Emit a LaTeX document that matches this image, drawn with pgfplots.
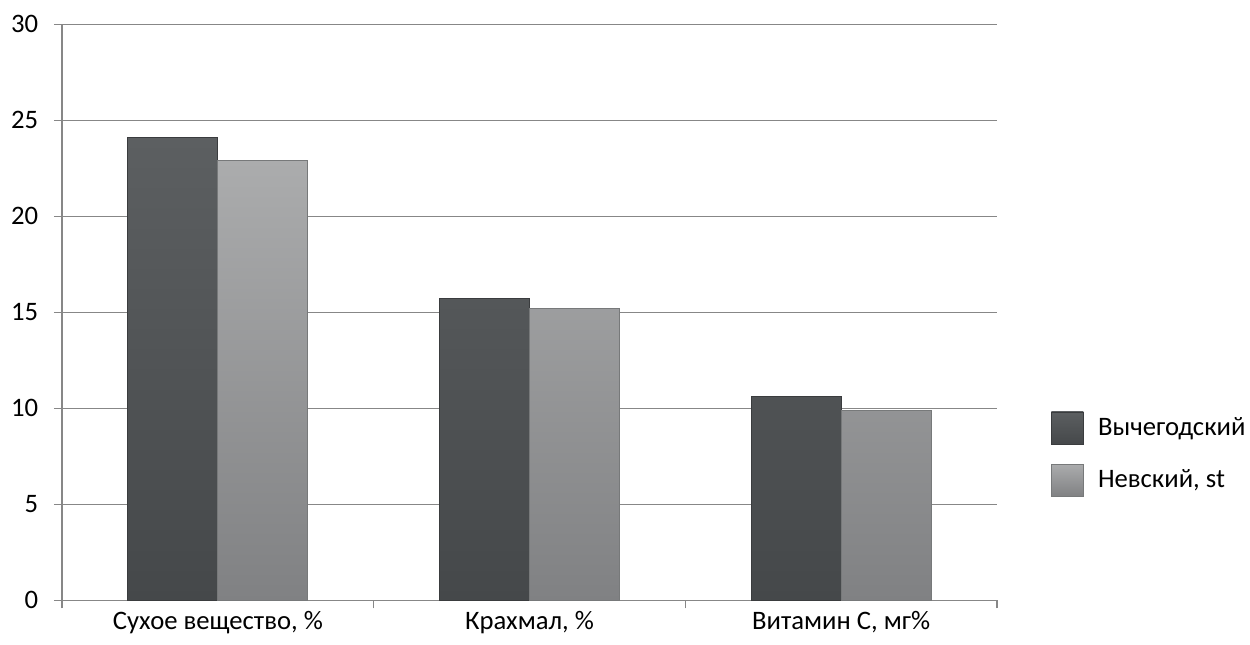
\documentclass[border=0pt]{standalone}
\usepackage{pgfplots}
\pgfplotsset{compat=1.18}
\usepackage{fontspec}
\setmainfont{Carlito}

\definecolor{axisgray}{HTML}{878787}
\definecolor{darktop}{HTML}{5C5F61}
\definecolor{darkbot}{HTML}{45484A}
\definecolor{darkedge}{HTML}{3A3C3E}
\definecolor{lighttop}{HTML}{ABACAD}
\definecolor{lightbot}{HTML}{808183}
\definecolor{lightedge}{HTML}{77797A}

\begin{document}
\begin{tikzpicture}
% 1 px of the reference = 0.6pt
\useasboundingbox (-37.2pt,-26.2pt) rectangle (712.8pt,360.2pt);
\begin{axis}[
    at={(0,0)}, anchor=south west,
    scale only axis,
    width=561pt, height=345.6pt,
    font=\fontsize{16}{19}\selectfont,
    /pgf/number format/assume math mode=true,
    ymin=0, ymax=30,
    ytick={0,5,...,30},
    yticklabel style={xshift=-6pt},
    xmin=-0.5, xmax=2.5,
    xtick={-0.5,0.5,1.5,2.5},
    xticklabels={},
    extra x ticks={0,1,2},
    extra x tick labels={{Сухое вещество, \%}, {Крахмал, \%}, {Витамин С, мг\%}},
    extra x tick style={major tick length=0pt, grid=none},
    extra x tick style={xticklabel style={yshift=-3pt}},
    axis x line*=bottom,
    axis y line*=left,
    axis line style={draw=axisgray, line width=0.8pt},
    tick style={draw=axisgray, line width=0.8pt},
    tick align=outside,
    major tick length=4.8pt,
    ymajorgrids,
    grid style={draw=axisgray, line width=0.8pt},
    xmajorgrids=false,
    ybar,
    bar width=0.289,
    legend style={draw=none, fill=none, at={(1.052,0.254)}, anchor=west,
        row sep=11pt, font=\fontsize{16}{19}\selectfont,
        nodes={inner sep=4pt}},
    legend cell align=left,
    legend image code/.code={
        \draw[#1] (0pt,-9.6pt) rectangle (19.2pt,9.6pt);
        \path[draw=none] (0pt,0pt) -- (24pt,0pt);
    },
]
\addplot[bar shift=-0.1445, top color=darktop, bottom color=darkbot, draw=darkedge, line width=0.5pt]
    coordinates {(0,24.1) (1,15.7) (2,10.6)};
\addlegendentry{Вычегодский}
\addplot[bar shift=0.1445, top color=lighttop, bottom color=lightbot, draw=lightedge, line width=0.5pt]
    coordinates {(0,22.9) (1,15.2) (2,9.9)};
\addlegendentry{Невский, st}
\end{axis}
\end{tikzpicture}
\end{document}
